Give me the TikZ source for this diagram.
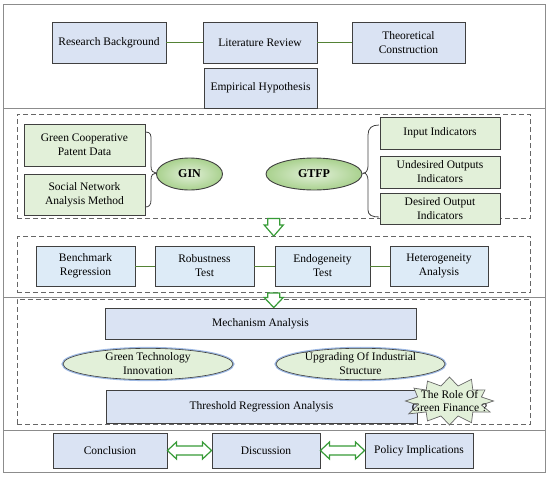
\documentclass[tikz,border=0pt]{standalone}
\usepackage{fontspec}
\setmainfont{Liberation Serif}
\usetikzlibrary{shapes.geometric,calc}
\definecolor{boxblue}{HTML}{DAE3F3}
\definecolor{boxblueb}{HTML}{DDEBF7}
\definecolor{boxgreen}{HTML}{E2F0D9}
\definecolor{ellgreen}{HTML}{A9D18E}
\definecolor{edge}{HTML}{404040}
\definecolor{conngreen}{HTML}{548235}
\definecolor{arrgreen}{HTML}{379B37}
\definecolor{frame}{HTML}{8C8C8C}
\definecolor{glow}{HTML}{9DB8E3}
\tikzset{
  x=1pt, y=-1pt,
  every node/.style={font=\fontsize{11.5}{14}\selectfont, align=center, inner sep=1pt},
  bluebox/.style={draw=edge, line width=0.9pt, fill=boxblue, rectangle},
  blueboxb/.style={draw=edge, line width=0.9pt, fill=boxblueb, rectangle},
  greenbox/.style={draw=edge, line width=0.9pt, fill=boxgreen, rectangle},
  gell/.style={ellipse, draw=edge, line width=0.9pt, inner color=boxgreen, outer color=ellgreen, font=\fontsize{12}{14}\selectfont\bfseries},
  lell/.style={ellipse, draw=edge, line width=0.6pt, fill=boxgreen, preaction={draw=glow, line width=3pt}},
  dashbox/.style={draw=edge!80, dash pattern=on 5pt off 3pt, line width=0.9pt, rectangle, inner sep=0pt},
  conn/.style={draw=conngreen, line width=1pt},
  bracestyle/.style={draw=edge, line width=0.8pt},
  hollow/.style={draw=arrgreen, fill=white, line width=1.2pt, line join=miter},
  framestyle/.style={draw=frame, line width=1pt},
  burst/.style={draw=edge!80, fill=boxgreen, line width=0.7pt, line join=miter},
}
\begin{document}
\begin{tikzpicture}
\useasboundingbox (0,0) rectangle (550,477);
% frame and panel separators
\draw[framestyle] (3,4) rectangle (545,472);
\draw[framestyle] (3,108.5) -- (545,108.5);
\draw[framestyle] (3,297) -- (545,297);
\draw[framestyle] (3,430) -- (545,430);

% dashed group boxes
\node[dashbox, minimum width=513.5pt, minimum height=104pt] (A) at (273.75,166) {};
\node[dashbox, minimum width=513.5pt, minimum height=56pt] (B) at (273.75,264.5) {};
\node[dashbox, minimum width=513.5pt, minimum height=125pt] (C) at (273.75,361.5) {};

% top panel
\node[bluebox, minimum width=114pt, minimum height=41pt] (rb) at (109,42.5) {Research Background};
\node[bluebox, minimum width=114pt, minimum height=41pt] (lr) at (260,42.5) {Literature Review};
\node[bluebox, minimum width=113pt, minimum height=41pt] (tc) at (408.5,42.5) {Theoretical\\Construction};
\node[bluebox, minimum width=113pt, minimum height=40pt] (eh) at (260.5,88) {Empirical Hypothesis};
\draw[conn] (rb) -- (lr);
\draw[conn] (lr) -- (tc);

% panel A
\node[greenbox, minimum width=121pt, minimum height=42pt] (gcp) at (84.5,145) {Green Cooperative\\Patent Data};
\node[greenbox, minimum width=121pt, minimum height=41pt] (sna) at (84.5,194.5) {Social Network\\Analysis Method};
\node[gell, minimum width=66pt, minimum height=32pt] (gin) at (189.5,174) {GIN};
\node[gell, minimum width=96pt, minimum height=32pt] (gtfp) at (314,174) {GTFP};
\node[greenbox, minimum width=120pt, minimum height=32pt] (ii) at (440,133) {Input Indicators};
\node[greenbox, minimum width=120pt, minimum height=32pt] (uoi) at (440,172) {Undesired Outputs\\Indicators};
\node[greenbox, minimum width=120pt, minimum height=31pt] (doi) at (440,208.5) {Desired Output\\Indicators};
\coordinate (tipL) at (156,173);
\coordinate (tipR) at (364,173);
\draw[bracestyle] (145.5,132) .. controls (151,132) and (151,135) .. (151,140) -- (151,166)
  .. controls (151,171) and (153,173) .. (tipL)
  .. controls (153,173) and (151,175) .. (151,180) -- (151,200)
  .. controls (151,205) and (149,207) .. (145.5,207);
\draw[bracestyle] (tipL) -- (gin.west);
\draw[bracestyle] (379,125) .. controls (372,125) and (368,128) .. (368,135) -- (368,166)
  .. controls (368,170) and (366,173) .. (tipR)
  .. controls (366,173) and (368,176) .. (368,180) -- (368,210)
  .. controls (368,215) and (372,217) .. (379,217);
\draw[bracestyle] (tipR) -- (gtfp.east);

% down arrow A -> B
\coordinate (a1s) at (A.south);
\coordinate (a1t) at (B.north);
\draw[hollow] ($(a1s)+(-6,0)$) -- ($(a1t)+(-6,-11)$) -- ($(a1t)+(-9.5,-11)$) -- (a1t)
  -- ($(a1t)+(9.5,-11)$) -- ($(a1t)+(6,-11)$) -- ($(a1s)+(6,0)$) -- cycle;

% panel B
\node[blueboxb, minimum width=99pt, minimum height=40pt] (br) at (85.5,266) {Benchmark\\Regression};
\node[blueboxb, minimum width=99pt, minimum height=40pt] (rt) at (204.5,266) {Robustness\\Test};
\node[blueboxb, minimum width=95pt, minimum height=40pt] (et) at (322.5,266) {Endogeneity\\Test};
\node[blueboxb, minimum width=98pt, minimum height=40pt] (ha) at (439,266) {Heterogeneity\\Analysis};
\draw[conn] (br) -- (rt);
\draw[conn] (rt) -- (et);
\draw[conn] (et) -- (ha);

% down arrow B -> C
\coordinate (a2s) at (B.south);
\coordinate (a2t) at ($(C.north)+(0,9)$);
\draw[hollow] ($(a2s)+(-6,0)$) -- ($(a2t)+(-6,-10)$) -- ($(a2t)+(-9.5,-10)$) -- (a2t)
  -- ($(a2t)+(9.5,-10)$) -- ($(a2t)+(6,-10)$) -- ($(a2s)+(6,0)$) -- cycle;

% panel C
\node[bluebox, minimum width=311pt, minimum height=31pt] (ma) at (260.5,323.5) {Mechanism Analysis};
\node[lell, minimum width=170pt, minimum height=29pt, inner sep=0pt] (gti) at (148,364) {Green Technology\\Innovation};
\node[lell, minimum width=169pt, minimum height=29pt, inner sep=0pt] (uis) at (360.5,364) {Upgrading Of Industrial\\Structure};
\node[bluebox, minimum width=311pt, minimum height=33pt] (tra) at (261.5,406.5) {Threshold Regression Analysis};
\coordinate (starc) at (449.5,401);
\draw[burst] plot[samples at={0,15,...,345}]
  ({449.5 + (mod(\x,30)==0 ? 44+3*sin(3*\x) : 33)*cos(\x)},
   {401 + (mod(\x,30)==0 ? 24+2*cos(5*\x) : 15.5)*sin(\x)}) -- cycle;
\node[font=\fontsize{11.5}{13.5}\selectfont] (startext) at (starc) {The Role Of\\Green Finance ?};

% panel D
\node[bluebox, minimum width=114pt, minimum height=35pt] (con) at (110,450.5) {Conclusion};
\node[bluebox, minimum width=108pt, minimum height=35pt] (dis) at (266,450.5) {Discussion};
\node[bluebox, minimum width=108pt, minimum height=35pt] (pi) at (419,450.5) {Policy Implications};
\foreach \l/\r in {con/dis, dis/pi} {
  \draw[hollow] (\l.east) -- ($(\l.east)+(9,-8.5)$) -- ($(\l.east)+(9,-4.5)$) -- ($(\r.west)+(-9,-4.5)$)
    -- ($(\r.west)+(-9,-8.5)$) -- (\r.west) -- ($(\r.west)+(-9,8.5)$) -- ($(\r.west)+(-9,4.5)$)
    -- ($(\l.east)+(9,4.5)$) -- ($(\l.east)+(9,8.5)$) -- cycle;
}
\end{tikzpicture}
\end{document}
